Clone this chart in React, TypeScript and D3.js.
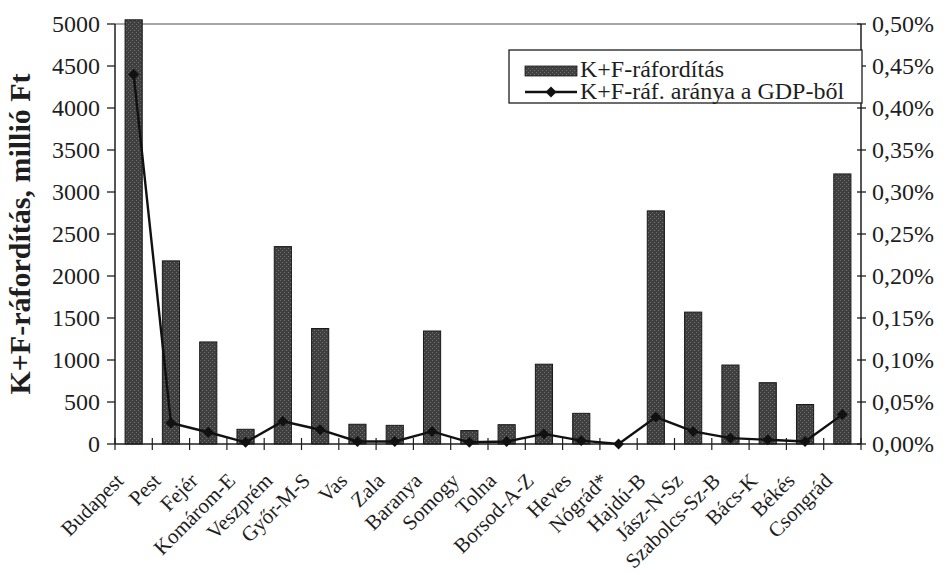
import React from "react";
import * as d3 from "d3";

// counties (megyék)
const categories = [
  "Budapest", "Pest", "Fejér", "Komárom-E", "Veszprém", "Győr-M-S", "Vas", "Zala",
  "Baranya", "Somogy", "Tolna", "Borsod-A-Z", "Heves", "Nógrád*", "Hajdú-B",
  "Jász-N-Sz", "Szabolcs-Sz-B", "Bács-K", "Békés", "Csongrád",
];

// K+F-ráfordítás, millió Ft
const spending = [
  5050, 2180, 1215, 175, 2350, 1375, 235, 222, 1345, 160, 230, 950, 365, 0, 2775,
  1570, 940, 730, 470, 3215,
];

// K+F-ráf. aránya a GDP-ből, %
const gdpShare = [
  0.44, 0.025, 0.014, 0.002, 0.027, 0.017, 0.003, 0.003, 0.015, 0.002, 0.003, 0.012,
  0.004, 0.0, 0.032, 0.015, 0.007, 0.005, 0.003, 0.035,
];

const leftTicks = d3.range(0, 5001, 500);
const rightTicks = d3.range(0, 11).map((i) => i * 0.05);

const W = 946, H = 575;
const margin = { left: 115, right: 85, top: 24, bottom: 131 };
const FONT = '"Liberation Serif", "Times New Roman", serif';
const INK = "#1e1e1e";

export default function App() {
  const x = d3
    .scaleBand<string>()
    .domain(categories)
    .range([margin.left, W - margin.right])
    .paddingInner(0.54)
    .paddingOuter(0.27);
  const step = x.step();
  const x0 = margin.left;
  const x1 = W - margin.right;
  const center = (c: string) => (x(c) as number) + x.bandwidth() / 2;

  const yL = d3.scaleLinear().domain([0, 5000]).range([H - margin.bottom, margin.top]);
  const yR = d3.scaleLinear().domain([0, 0.5]).range([H - margin.bottom, margin.top]);
  const yBase = yL(0);

  const line = d3
    .line<number>()
    .x((_, i) => center(categories[i]))
    .y((d) => yR(d));

  const diamond = d3.symbol(d3.symbolSquare, 60)() || "";
  const fmtPct = (v: number) => v.toFixed(2).replace(".", ",") + "%";

  const boundaries = d3.range(0, categories.length + 1).map((i) => x0 + i * step);

  return (
    <svg
      width={W}
      height={H}
      style={{ position: "absolute", left: 0, top: 0, background: "#fff" }}
      fontFamily={FONT}
    >
      <defs>
        <pattern id="stipple" width="4" height="4" patternUnits="userSpaceOnUse">
          <rect width="4" height="4" fill="#3f3f3f" />
          <rect x="0" y="0" width="1" height="1" fill="#6e6e6e" />
          <rect x="2" y="2" width="1" height="1" fill="#777" />
        </pattern>
      </defs>

      {/* plot top border */}
      <line x1={x0} x2={x1} y1={margin.top} y2={margin.top} stroke="#8a8a8a" strokeWidth={1.5} />

      {/* bars */}
      {spending.map((v, i) => (
        <rect
          key={categories[i]}
          x={x(categories[i])}
          y={yL(v)}
          width={x.bandwidth()}
          height={yBase - yL(v)}
          fill="url(#stipple)"
          stroke="#1a1a1a"
          strokeWidth={1}
        />
      ))}

      {/* left axis */}
      <line x1={x0} x2={x0} y1={margin.top} y2={yBase} stroke={INK} strokeWidth={1.5} />
      {leftTicks.map((t) => (
        <g key={"l" + t}>
          <line x1={x0 - 8} x2={x0} y1={yL(t)} y2={yL(t)} stroke={INK} strokeWidth={1.3} />
          <text x={x0 - 15} y={yL(t)} dy="0.35em" textAnchor="end" fontSize={24} fill={INK}>
            {t}
          </text>
        </g>
      ))}

      {/* right axis */}
      <line x1={x1} x2={x1} y1={margin.top} y2={yBase} stroke={INK} strokeWidth={1.5} />
      {rightTicks.map((t) => (
        <g key={"r" + t}>
          <line x1={x1 - 4} x2={x1 + 5} y1={yR(t)} y2={yR(t)} stroke={INK} strokeWidth={1.3} />
          <text x={x1 + 11} y={yR(t)} dy="0.35em" textAnchor="start" fontSize={24} fill={INK}>
            {fmtPct(t)}
          </text>
        </g>
      ))}

      {/* x axis */}
      <line x1={x0} x2={x1} y1={yBase} y2={yBase} stroke={INK} strokeWidth={1.5} />
      {boundaries.map((bx, i) => (
        <line key={"t" + i} x1={bx} x2={bx} y1={yBase - 6} y2={yBase + 6} stroke={INK} strokeWidth={1.2} />
      ))}
      {categories.map((c) => (
        <text
          key={"x" + c}
          transform={`translate(${center(c) - 9},${yBase + 38}) rotate(-45)`}
          textAnchor="end"
          fontSize={21}
          fill={INK}
        >
          {c}
        </text>
      ))}

      {/* GDP share line */}
      <path d={line(gdpShare) || ""} fill="none" stroke="#111" strokeWidth={2.4} />
      {gdpShare.map((v, i) => (
        <path
          key={"m" + i}
          d={diamond}
          transform={`translate(${center(categories[i])},${yR(v)}) rotate(45)`}
          fill="#111"
        />
      ))}

      {/* y title */}
      <text
        transform={`translate(30,${(margin.top + yBase) / 2}) rotate(-90)`}
        textAnchor="middle"
        fontSize={30}
        fontWeight="bold"
        fill={INK}
      >
        K+F-ráfordítás, millió Ft
      </text>

      {/* legend */}
      <g>
        <rect x={509} y={50} width={353} height={53} fill="#fff" stroke={INK} strokeWidth={1.3} />
        <rect x={525} y={66} width={52} height={10} fill="url(#stipple)" stroke="#1a1a1a" strokeWidth={0.8} />
        <text x={580} y={77} fontSize={24} fill={INK}>K+F-ráfordítás</text>
        <line x1={525} x2={577} y1={92} y2={92} stroke="#111" strokeWidth={2.4} />
        <path d={diamond} transform="translate(551,92) rotate(45)" fill="#111" />
        <text x={580} y={99} fontSize={24} fill={INK}>K+F-ráf. aránya a GDP-ből</text>
      </g>
    </svg>
  );
}
